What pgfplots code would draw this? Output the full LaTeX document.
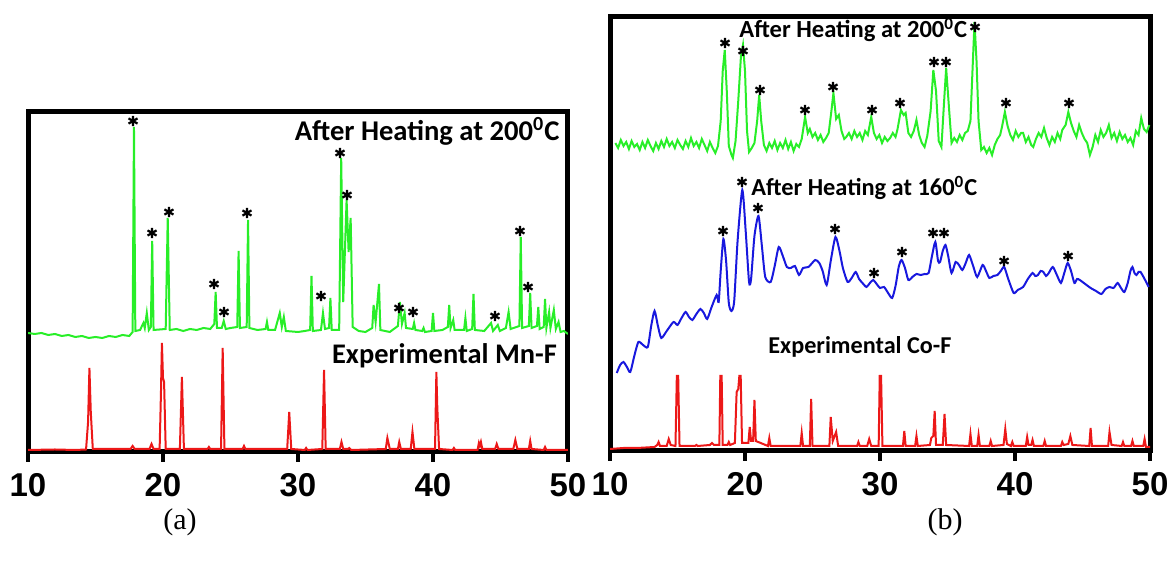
\documentclass[border=0pt]{standalone}
\usepackage{pgfplots}
\pgfplotsset{compat=1.18}
\usepackage{fontspec}
\setmainfont{Carlito}
\newfontfamily\tickfont{Liberation Sans}
\newfontfamily\capfont{Liberation Serif}
\definecolor{xgreen}{RGB}{40,238,40}
\definecolor{xred}{RGB}{236,24,24}
\definecolor{xblue}{RGB}{24,24,222}

\pgfplotstableread{
x y
10 119
10.5 118
11 119
11.5 117
12 118
12.5 116
13 117
13.5 115
14 116
14.5 114
15 115
15.5 114
16 116
16.5 115
17 117
17.5 116
17.75 120
17.85 325
17.95 121
18.3 122
18.55 129
18.65 124
18.8 139
18.95 122
19.1 125
19.2 211
19.3 122
20.2 123
20.35 234
20.5 122
21 123
21.5 121
22 123
22.5 122
23 124
23.5 123
23.8 128
23.9 160
24.0 124
24.35 124
24.5 131
24.65 123
25.0 124
25.5 125
25.6 201
25.7 124
26.2 125
26.3 232
26.4 124
27 122
27.6 123
27.7 130
27.8 122
28.3 122
28.65 139
28.8 125
28.95 135
29.1 121
30 120
30.5 121
30.9 122
31.0 176
31.1 121
31.7 122
31.85 139
32.0 123
32.3 124
32.4 154
32.5 122
33.05 122
33.2 294
33.35 150
33.6 252
33.75 200
33.9 234
34.05 125
34.5 121
35.0 120
35.5 124
35.6 147
35.75 130
36.0 168
36.1 122
36.8 120
37.4 126
37.55 150
37.7 128
37.9 139
38.0 124
38.5 123
38.6 129
38.7 122
39.2 121
39.3 124
39.4 120
39.9 121
40.0 139
40.1 121
40.7 122
41.1 125
41.2 147
41.3 124
41.5 132
41.6 122
42.3 122
42.4 134
42.5 121
42.9 123
43.0 158
43.1 122
43.8 121
44.3 129
44.45 121
44.8 127
44.95 121
45.4 124
45.6 140
45.75 123
46.4 126
46.5 215
46.6 124
47.1 126
47.2 159
47.3 124
47.7 126
47.8 145
47.9 123
48.2 125
48.3 153
48.4 124
48.6 140
48.7 124
48.95 142
49.1 123
49.3 130
49.45 120
49.7 121
50 118
}\greenA

\pgfplotstableread{
x y
10 2
12 2.5
13.5 2
14.3 2.5
14.45 30
14.55 84
14.65 40
14.8 3
17.6 3
17.75 6
17.9 3
19.0 3
19.15 8
19.3 3
19.75 3
19.85 60
19.92 109
20.0 74
20.08 70
20.2 3
21.25 3
21.4 75
21.55 3
23.3 3
23.4 5
23.5 3
24.3 3
24.42 104
24.55 3
25.9 3
26.0 6
26.1 3
29.2 3
29.35 40
29.5 3
30.5 2
30.6 4
30.7 2
31.8 3
31.93 82
32.05 3
33.1 3
33.22 10
33.35 3
33.7 3
33.8 4
33.95 2
36.5 3
36.62 14
36.8 3
37.4 3
37.5 10
37.62 3
38.35 3
38.48 20
38.62 3
40.15 3
40.25 80
40.32 44
40.45 3
41.45 2
41.55 4
41.65 2
43.3 2
43.4 9
43.47 6
43.55 10
43.65 3
44.6 3
44.72 8
44.85 3
45.95 3
46.1 12
46.25 3
47.1 3
47.2 11
47.3 3
48.2 2
48.3 5
48.4 2
50 2
}\redA

\pgfplotstableread{
x y
10.4 308
10.6 303
10.8 311
11.0 305
11.2 309
11.4 302
11.6 310
11.8 304
12.0 307
12.2 301
12.4 309
12.6 303
12.8 311
13.0 305
13.2 300
13.4 308
13.6 302
13.8 310
14.0 304
14.2 312
14.4 305
14.6 309
14.8 303
15.0 311
15.2 306
15.4 302
15.6 310
15.8 304
16.0 313
16.2 305
16.4 309
16.6 303
16.8 312
17.0 306
17.2 300
17.4 309
17.6 303
17.8 298
18.0 305
18.2 330
18.35 380
18.5 401
18.65 360
18.8 305
19.0 296
19.1 293
19.3 310
19.5 350
19.7 395
19.85 406
20.0 380
20.15 320
20.3 299
20.5 303
20.7 308
20.9 330
21.05 356
21.2 330
21.4 306
21.6 300
21.8 308
22.0 303
22.2 310
22.4 301
22.6 308
22.8 303
23.0 311
23.2 302
23.4 309
23.6 300
23.8 307
24.0 304
24.2 312
24.45 334
24.65 318
24.8 322
25.0 314
25.2 318
25.4 311
25.6 316
25.8 309
26.0 313
26.2 318
26.4 340
26.55 358
26.75 332
26.95 336
27.15 320
27.35 312
27.5 314
27.7 318
27.9 312
28.1 320
28.3 314
28.5 318
28.7 311
28.9 320
29.1 316
29.35 334
29.55 318
29.75 312
29.95 316
30.15 308
30.35 314
30.55 310
30.75 313
30.95 318
31.15 314
31.3 322
31.55 341
31.75 336
31.9 338
32.1 318
32.3 314
32.5 320
32.7 331
32.9 316
33.1 308
33.3 304
33.5 315
33.75 340
33.95 381
34.15 360
34.35 310
34.55 304
34.75 350
34.9 383
35.1 345
35.3 308
35.5 313
35.7 309
35.9 316
36.1 311
36.3 318
36.5 320
36.7 330
36.85 380
37.0 429
37.15 390
37.3 330
37.5 301
37.7 304
37.9 298
38.1 303
38.3 296
38.5 306
38.7 312
38.9 316
39.05 325
39.25 339
39.45 325
39.65 316
39.85 311
40.05 320
40.25 314
40.45 318
40.6 318
40.8 309
41.0 314
41.2 306
41.35 304
41.55 312
41.75 318
41.95 314
42.15 323
42.35 313
42.55 306
42.75 314
42.95 309
43.15 318
43.35 312
43.5 321
43.75 326
43.95 339
44.15 328
44.35 320
44.55 314
44.75 326
44.95 318
45.15 312
45.35 308
45.55 296
45.75 304
45.95 316
46.15 309
46.35 321
46.55 314
46.75 318
46.95 326
47.15 313
47.35 318
47.55 310
47.75 319
47.95 312
48.15 316
48.35 309
48.55 313
48.75 306
48.95 320
49.15 316
49.35 333
49.55 322
49.75 319
49.95 326
}\greenB

\pgfplotstableread{
x y
10.5 78
10.75 86
11.0 89
11.25 84
11.5 79
11.8 95
12.1 109
12.45 106
12.8 104
13.05 125
13.3 140
13.55 125
13.8 113
14.2 120
14.7 129
15.0 126
15.3 133
15.6 139
15.85 134
16.1 131
16.4 137
16.7 142
16.95 138
17.2 132
17.5 143
17.9 156
18.05 149
18.2 180
18.4 212
18.6 190
18.8 148
19.0 140
19.2 150
19.45 210
19.8 261
20.05 220
20.3 169
20.45 172
20.7 215
21.0 235
21.25 205
21.5 174
21.9 169
22.2 185
22.5 204
22.8 195
23.1 184
23.4 183
23.7 185
24.0 176
24.3 183
24.7 184
25.2 191
25.5 188
25.75 180
26.05 166
26.35 190
26.7 214
27.0 200
27.25 183
27.6 169
27.9 173
28.2 179
28.45 172
28.7 168
29.0 164
29.25 168
29.5 171
29.75 167
30.0 163
30.3 164
30.6 158
30.9 153
31.15 165
31.4 185
31.6 191
31.85 183
32.1 171
32.4 174
32.7 177
33.0 176
33.3 177
33.6 178
33.85 195
34.1 209
34.3 190
34.45 189
34.65 200
34.85 206
35.05 195
35.3 178
35.6 189
35.85 186
36.1 181
36.35 188
36.6 196
36.9 185
37.2 174
37.6 186
37.85 180
38.1 173
38.4 175
38.7 176
38.95 180
39.2 184
39.5 172
39.9 158
40.2 161
40.6 164
40.95 172
41.3 178
41.5 175
41.7 176
41.9 180
42.1 179
42.3 175
42.5 178
42.8 184
43.1 176
43.4 168
43.65 178
43.9 188
44.15 180
44.4 168
44.6 172
44.8 171
45.2 167
45.6 163
46.0 160
46.4 157
46.7 162
47.0 164
47.3 163
47.6 168
47.85 163
48.1 159
48.35 168
48.55 180
48.7 184
48.85 178
49.0 176
49.15 179
49.3 179
49.6 172
49.9 164
}\blueB

\pgfplotstableread{
x y
10 2
11 3
12 3
13.3 4
13.5 6
13.6 9
13.7 5
14.2 5
14.35 12
14.5 6
14.85 5
14.95 75
15.05 75
15.15 5
16.3 5
16.4 6
16.5 5
17.4 6
17.55 8
17.7 6
18.1 6
18.17 75
18.27 75
18.35 6
18.7 6
18.8 9
18.9 6
19.25 8
19.38 59
19.5 62
19.58 75
19.68 75
19.78 8
20.25 8
20.35 24
20.45 10
20.6 10
20.7 51
20.8 10
21.7 5
21.8 13
21.9 5
24.1 5
24.2 18
24.3 5
24.8 5
24.9 52
25.0 5
26.25 5
26.35 34
26.5 10
26.75 19
26.9 5
28.3 5
28.4 9
28.5 5
29.05 5
29.2 12
29.35 5
29.9 5
29.98 75
30.08 75
30.18 5
31.7 5
31.8 20
31.9 5
32.6 5
32.7 15
32.8 5
33.7 6
33.8 13
33.95 15
34.05 40
34.15 6
34.65 6
34.78 37
34.9 6
36.6 5
36.7 17
36.8 5
37.2 5
37.3 16
37.4 5
38.1 5
38.2 10
38.3 5
39.15 6
39.28 22
39.4 7
39.7 5
39.8 9
39.9 5
40.8 5
40.9 14
41.0 6
41.2 6
41.3 11
41.4 5
42.1 5
42.2 10
42.3 5
43.4 5
43.5 9
43.6 6
43.95 7
44.1 15
44.25 6
45.5 5
45.6 23
45.7 5
46.9 5
47.0 19
47.15 6
47.9 5
48.0 9
48.1 5
48.6 5
48.7 10
48.8 5
49.5 5
49.6 12
49.7 4
50 4
}\redB

\pgfplotsset{
  xrdaxis/.style={
    scale only axis, width=270pt,
    xmin=10, xmax=50, ymin=0,
    axis line style={line width=2.5pt},
    xtick={10,20,30,40,50}, ytick=\empty,
    xtick pos=bottom, tick align=outside,
    major tick length=5pt,
    every tick/.style={black, line width=2pt},
    /pgf/number format/assume math mode=true,
    xticklabel style={font=\tickfont\bfseries\fontsize{16.5}{16.5}\selectfont, yshift=-2pt},
  },
  stars/.style={only marks, mark=asterisk, mark size=2.6pt,
    mark options={black, line width=1.1pt}},
}

\begin{document}
\begin{tikzpicture}
\useasboundingbox (0pt,0pt) rectangle (586pt,282.5pt);

\begin{axis}[xrdaxis, at={(14pt,56.5pt)}, anchor=south west, height=170pt, ymax=340]
\addplot[xred, line width=1pt] table {\redA};
\addplot[xgreen, line width=1pt] table {\greenA};
\addplot[stars] coordinates {
(17.78,331) (19.19,219) (20.44,240) (26.22,239) (23.78,168) (24.52,140)
(33.11,299) (33.63,257) (46.44,221) (31.70,156) (37.48,144) (38.52,140)
(44.59,136) (47.04,165)};
\node[anchor=base east, font=\bfseries\fontsize{14.3}{14.3}\selectfont, inner sep=0pt]
  at (axis cs:49.4,311) {After Heating at 200\textsuperscript{0}C};
\node[anchor=base east, font=\bfseries\fontsize{14.2}{14.2}\selectfont, inner sep=0pt]
  at (axis cs:49.2,88) {Experimental Mn-F};
\end{axis}

\begin{axis}[xrdaxis, at={(305pt,57pt)}, anchor=south west, height=217pt, ymax=434]
\addplot[xred, line width=1pt] table {\redB};
\addplot[xblue, line width=1pt, smooth, tension=0.4] table {\blueB};
\addplot[xgreen, line width=1pt] table {\greenB};
\addplot[stars] coordinates {
(18.52,408) (19.85,400) (21.11,361) (24.44,341) (26.52,364) (29.41,341)
(31.48,348) (34.0,389) (34.89,389) (37.04,424) (39.33,348) (44.0,348)};
\addplot[stars] coordinates {
(18.37,220) (19.78,269) (20.96,243) (26.67,222) (29.56,178) (31.63,199)
(33.93,218) (34.74,218) (39.19,190) (43.93,195)};
\node[anchor=base west, font=\bfseries\fontsize{12.3}{12.3}\selectfont, inner sep=0pt]
  at (axis cs:19.56,413) {After Heating at 200\textsuperscript{0}C};
\node[anchor=base west, font=\bfseries\fontsize{12.2}{12.2}\selectfont, inner sep=0pt]
  at (axis cs:20.44,255) {After Heating at 160\textsuperscript{0}C};
\node[anchor=base west, font=\bfseries\fontsize{12.1}{12.1}\selectfont, inner sep=0pt]
  at (axis cs:21.70,97) {Experimental Co-F};
\end{axis}

\node[font=\capfont\fontsize{15}{15}\selectfont] at (90pt,21.5pt) {(a)};
\node[font=\capfont\fontsize{15}{15}\selectfont] at (472.5pt,21.5pt) {(b)};
\end{tikzpicture}
\end{document}
